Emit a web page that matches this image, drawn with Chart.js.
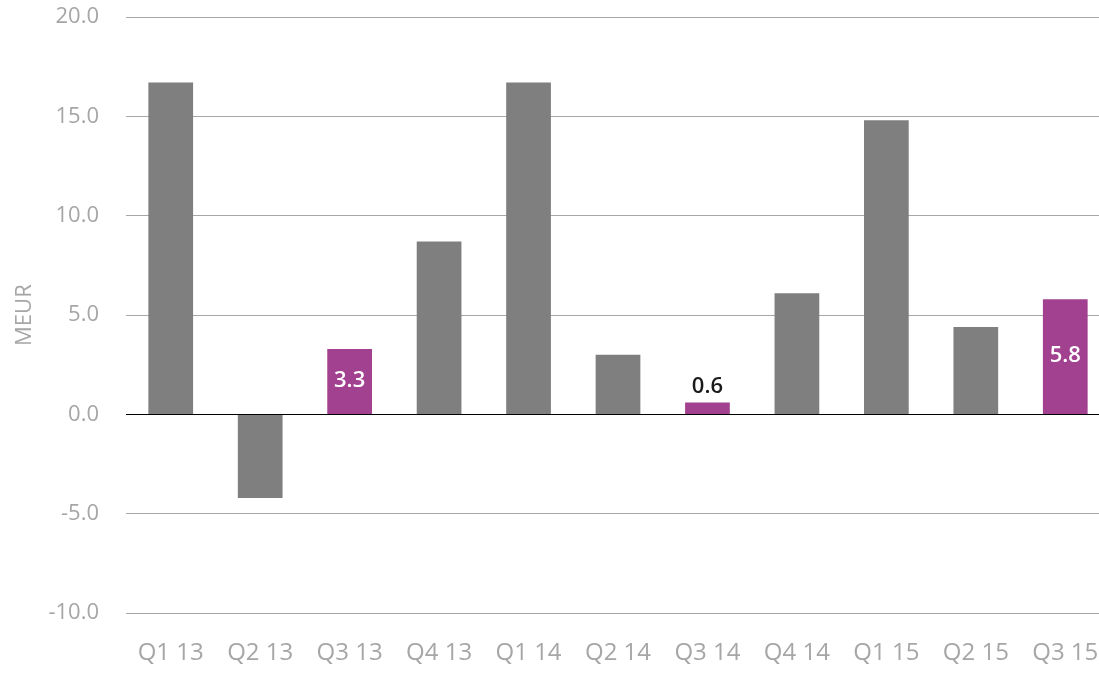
<!DOCTYPE html>
<html>
<head>
  <meta charset="UTF-8" />
  <script src="https://cdn.jsdelivr.net/npm/chart.js"></script>
  <title>MEUR</title>
  <style>
    html, body { margin: 0; padding: 0; background: #fff; overflow: hidden; }
    /* plottet fortsetter litt forbi høyre kant, som i originalen */
    #chartBox { width: 1099px; height: 674px; overflow: hidden; }
  </style>
</head>
<body>
  <div id="chartBox">
    <canvas id="quarterChart" width="1110" height="674"></canvas>
  </div>

  <script>
    // Kvartaler og verdier (MEUR)
    const quarters = ["Q1 13", "Q2 13", "Q3 13", "Q4 13", "Q1 14", "Q2 14", "Q3 14", "Q4 14", "Q1 15", "Q2 15", "Q3 15"];
    const values = [16.7, -4.2, 3.3, 8.7, 16.7, 3.0, 0.6, 6.1, 14.8, 4.4, 5.8];
    // Kvartaler som er uthevet med lilla og verdietikett
    const highlightQuarters = ["Q3 13", "Q3 14", "Q3 15"];
    const yTicks = [-10, -5, 0, 5, 10, 15, 20];

    const grey = "#7F7F7F";
    const purple = "#A1418F";
    const textGrey = "#A6A6A6";
    const fontFamily = "'Open Sans', sans-serif";
    const transparent = "rgba(0,0,0,0)";

    const barColors = quarters.map(q => highlightQuarters.includes(q) ? purple : grey);

    // tegner verdiene på de uthevede søylene
    const valueLabels = {
      id: "valueLabels",
      afterDatasetsDraw(chart) {
        const ctx = chart.ctx;
        const meta = chart.getDatasetMeta(0);
        ctx.save();
        ctx.font = "600 22px " + fontFamily;
        ctx.textAlign = "center";
        meta.data.forEach((bar, i) => {
          if (!highlightQuarters.includes(quarters[i])) return;
          const text = values[i].toFixed(1);
          const h = Math.abs(bar.base - bar.y);
          if (h > 30) {
            ctx.fillStyle = "#ffffff";
            ctx.textBaseline = "middle";
            ctx.fillText(text, bar.x, (bar.y + bar.base) / 2 - 1);
          } else {
            ctx.fillStyle = "#1a1a1a";
            ctx.textBaseline = "bottom";
            ctx.fillText(text, bar.x, bar.y - 5);
          }
        });
        ctx.restore();
      }
    };

    new Chart(document.getElementById("quarterChart").getContext("2d"), {
      type: "bar",
      data: {
        labels: quarters,
        datasets: [
          {
            data: values,
            backgroundColor: barColors,
            categoryPercentage: 1.0,
            barPercentage: 0.5,
          },
        ],
      },
      options: {
        responsive: false,
        animation: false,
        layout: { padding: { top: 17, right: 0, bottom: 4, left: 0 } },
        plugins: {
          legend: { display: false },
          tooltip: { enabled: false },
        },
        scales: {
          x: {
            border: { display: false },
            grid: {
              drawOnChartArea: false,
              drawTicks: true,
              tickLength: 24,
              tickColor: transparent,
            },
            ticks: {
              color: textGrey,
              font: { family: fontFamily, size: 24 },
              padding: 2,
              maxRotation: 0,
            },
          },
          y: {
            min: -10,
            max: 20,
            afterBuildTicks(scale) {
              scale.ticks = yTicks.map(v => ({ value: v }));
            },
            afterFit(scale) {
              scale.width = 126;
            },
            border: { display: false },
            grid: {
              drawTicks: true,
              tickLength: 25,
              tickColor: transparent,
              lineWidth: 1,
              color: ctx => ctx.tick && ctx.tick.value === 0 ? "#000000" : "#A6A6A6",
            },
            ticks: {
              color: textGrey,
              font: { family: fontFamily, size: 22 },
              padding: 2,
              callback: v => v.toFixed(1),
            },
            title: {
              display: true,
              text: "MEUR",
              color: textGrey,
              font: { family: fontFamily, size: 22 },
              padding: { top: 12, bottom: 0 },
            },
          },
        },
      },
      plugins: [valueLabels],
    });
  </script>
</body>
</html>
